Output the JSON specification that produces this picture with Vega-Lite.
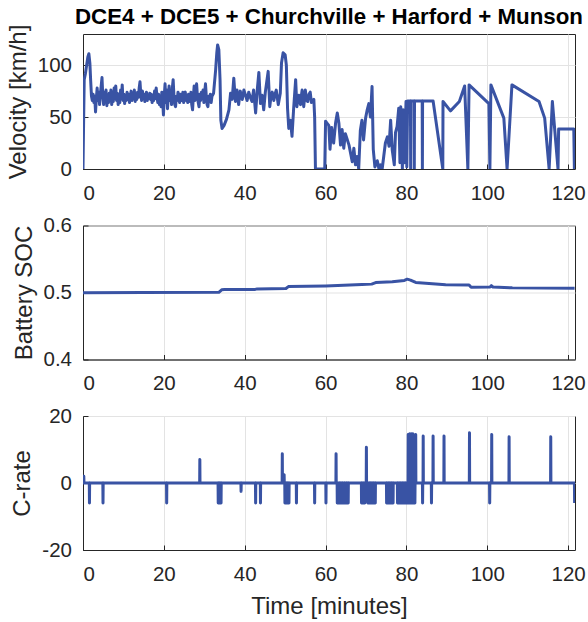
{
"$schema": "https://vega.github.io/schema/vega-lite/v6.json",
"padding": {"left": 5, "top": 5, "right": 5, "bottom": 5},
"background": "white",
"spacing": 56.5,
"bounds": "flush",
"datasets": {
"vel": [
{"t":0,"v":0},{"t":0.15,"v":45},{"t":0.3,"v":86},{"t":0.6,"v":92},{"t":0.9,"v":100},{"t":1.2,"v":108},{"t":1.45,"v":111},{"t":1.7,"v":102},{"t":1.9,"v":85},{"t":2.1,"v":70},{"t":2.3,"v":66},{"t":2.5,"v":72},{"t":2.7,"v":64},{"t":2.9,"v":70},{"t":3.1,"v":55},{"t":3.3,"v":68},{"t":3.5,"v":78},{"t":3.7,"v":66},{"t":3.9,"v":74},{"t":4.1,"v":62},{"t":4.3,"v":72},{"t":4.5,"v":80},{"t":4.7,"v":88},{"t":4.9,"v":70},{"t":5.1,"v":62},{"t":5.3,"v":74},{"t":5.5,"v":66},{"t":5.7,"v":76},{"t":5.9,"v":61},{"t":6.1,"v":70},{"t":6.3,"v":64},{"t":6.5,"v":73},{"t":6.7,"v":66},{"t":6.9,"v":76},{"t":7.1,"v":62},{"t":7.3,"v":70},{"t":7.5,"v":65},{"t":7.7,"v":78},{"t":7.9,"v":68},{"t":8.1,"v":80},{"t":8.3,"v":66},{"t":8.5,"v":73},{"t":8.7,"v":62},{"t":8.9,"v":71},{"t":9.1,"v":64},{"t":9.3,"v":76},{"t":9.5,"v":68},{"t":9.7,"v":81},{"t":9.9,"v":66},{"t":10.1,"v":72},{"t":10.3,"v":63},{"t":10.5,"v":71},{"t":10.7,"v":66},{"t":10.9,"v":74},{"t":11.1,"v":67},{"t":11.3,"v":72},{"t":11.5,"v":64},{"t":11.7,"v":70},{"t":11.9,"v":75},{"t":12.1,"v":66},{"t":12.3,"v":71},{"t":12.5,"v":68},{"t":12.7,"v":76},{"t":12.9,"v":65},{"t":13.1,"v":72},{"t":13.3,"v":67},{"t":13.5,"v":74},{"t":13.7,"v":69},{"t":13.9,"v":78},{"t":14.1,"v":84},{"t":14.3,"v":72},{"t":14.5,"v":66},{"t":14.7,"v":75},{"t":14.9,"v":68},{"t":15.1,"v":72},{"t":15.3,"v":65},{"t":15.5,"v":70},{"t":15.7,"v":74},{"t":15.9,"v":66},{"t":16.1,"v":71},{"t":16.3,"v":68},{"t":16.5,"v":73},{"t":16.7,"v":67},{"t":16.9,"v":72},{"t":17.1,"v":64},{"t":17.3,"v":70},{"t":17.5,"v":66},{"t":17.7,"v":75},{"t":17.9,"v":68},{"t":18.1,"v":78},{"t":18.3,"v":70},{"t":18.5,"v":64},{"t":18.7,"v":72},{"t":18.9,"v":62},{"t":19.1,"v":68},{"t":19.3,"v":60},{"t":19.5,"v":74},{"t":19.7,"v":66},{"t":19.9,"v":52},{"t":20.1,"v":70},{"t":20.3,"v":82},{"t":20.5,"v":64},{"t":20.7,"v":76},{"t":20.9,"v":58},{"t":21.1,"v":70},{"t":21.3,"v":80},{"t":21.5,"v":66},{"t":21.7,"v":74},{"t":21.9,"v":62},{"t":22.1,"v":78},{"t":22.3,"v":86},{"t":22.5,"v":70},{"t":22.7,"v":62},{"t":22.9,"v":60},{"t":23.1,"v":70},{"t":23.3,"v":66},{"t":23.5,"v":74},{"t":23.7,"v":70},{"t":23.9,"v":64},{"t":24.1,"v":72},{"t":24.3,"v":66},{"t":24.5,"v":68},{"t":24.7,"v":74},{"t":24.9,"v":64},{"t":25.1,"v":72},{"t":25.3,"v":74},{"t":25.5,"v":66},{"t":25.7,"v":70},{"t":25.9,"v":64},{"t":26.1,"v":72},{"t":26.3,"v":66},{"t":26.5,"v":65},{"t":26.7,"v":74},{"t":26.9,"v":62},{"t":27.1,"v":57},{"t":27.3,"v":70},{"t":27.5,"v":80},{"t":27.7,"v":66},{"t":27.9,"v":74},{"t":28.1,"v":82},{"t":28.3,"v":70},{"t":28.5,"v":64},{"t":28.7,"v":60},{"t":28.9,"v":72},{"t":29.1,"v":66},{"t":29.3,"v":74},{"t":29.5,"v":68},{"t":29.7,"v":76},{"t":29.9,"v":64},{"t":30.1,"v":74},{"t":30.3,"v":82},{"t":30.5,"v":70},{"t":30.7,"v":62},{"t":30.9,"v":60},{"t":31.1,"v":70},{"t":31.3,"v":66},{"t":31.5,"v":72},{"t":31.7,"v":64},{"t":31.9,"v":70},
{"t":32.3,"v":73},{"t":32.8,"v":95},{"t":33.1,"v":112},{"t":33.3,"v":119.5},{"t":33.6,"v":115},{"t":33.9,"v":86},{"t":34.1,"v":47},{"t":34.4,"v":39},{"t":34.9,"v":42},{"t":35.5,"v":48},{"t":36.1,"v":57},{"t":36.5,"v":73},{"t":36.9,"v":67},{"t":37.3,"v":87.5},{"t":37.7,"v":65},{"t":38.1,"v":76},{"t":38.5,"v":62},{"t":38.9,"v":75},{"t":39.4,"v":67},{"t":39.8,"v":76},{"t":40.2,"v":71},{"t":40.6,"v":66},{"t":41.0,"v":74},{"t":41.4,"v":69},{"t":41.8,"v":65},{"t":42.2,"v":76},{"t":42.7,"v":54},{"t":43.1,"v":76},{"t":43.5,"v":93},{"t":43.9,"v":63},{"t":44.3,"v":71},{"t":44.7,"v":57},{"t":45.1,"v":74},{"t":45.8,"v":94},{"t":46.2,"v":60},{"t":46.5,"v":70},{"t":46.8,"v":74},{"t":47.2,"v":66},{"t":47.5,"v":72},{"t":47.8,"v":76},{"t":48.3,"v":62},{"t":48.8,"v":73},{"t":49.1,"v":102},{"t":49.5,"v":112},{"t":50.0,"v":110},{"t":50.3,"v":100},{"t":50.6,"v":58},{"t":50.9,"v":39},{"t":51.3,"v":47},{"t":51.7,"v":31.5},{"t":52.1,"v":58},{"t":52.6,"v":86},{"t":52.9,"v":60},{"t":53.2,"v":68},{"t":53.4,"v":71},{"t":53.8,"v":62},{"t":54.0,"v":70},{"t":54.2,"v":76},{"t":54.6,"v":60},{"t":54.8,"v":68},{"t":55.0,"v":76},{"t":55.3,"v":66},{"t":55.6,"v":65},{"t":55.9,"v":72},{"t":56.2,"v":74},{"t":56.5,"v":64},{"t":56.8,"v":66},{"t":57.1,"v":67},{"t":57.3,"v":50},{"t":57.5,"v":0},{"t":59.8,"v":0},
{"t":60.0,"v":46},{"t":60.4,"v":44},{"t":60.8,"v":42},{"t":61.1,"v":19},{"t":61.5,"v":40},{"t":62.0,"v":25},{"t":62.5,"v":45},{"t":62.9,"v":54},{"t":63.3,"v":44},{"t":63.7,"v":23},{"t":64.1,"v":38},{"t":64.5,"v":20},{"t":64.9,"v":34},{"t":65.4,"v":28},{"t":65.8,"v":23},{"t":66.2,"v":15},{"t":66.6,"v":7},{"t":67.0,"v":20},{"t":67.4,"v":4},{"t":67.8,"v":12},{"t":68.2,"v":0},{"t":68.6,"v":37},{"t":69.0,"v":47},{"t":69.4,"v":28},{"t":69.9,"v":49},{"t":70.3,"v":57},{"t":70.7,"v":63},{"t":71.1,"v":50},{"t":71.5,"v":79.5},{"t":71.8,"v":19},{"t":72.2,"v":2},{"t":72.8,"v":8},{"t":73.2,"v":0},{"t":73.6,"v":4},{"t":74.0,"v":0},{"t":74.4,"v":12.5},{"t":74.8,"v":25},{"t":75.3,"v":31},{"t":75.7,"v":22},{"t":76.1,"v":47},{"t":76.5,"v":18},{"t":77.0,"v":4},{"t":77.3,"v":35},{"t":77.7,"v":41},{"t":78.1,"v":58.6},{"t":78.4,"v":6},{"t":78.6,"v":60},{"t":79.0,"v":0},{"t":79.2,"v":57},{"t":79.5,"v":6},{"t":79.9,"v":65},{"t":80.1,"v":2},{"t":80.3,"v":65.5},{"t":81.0,"v":65.5},{"t":81.05,"v":0},{"t":81.1,"v":65.5},{"t":81.9,"v":65.5},{"t":81.95,"v":0},{"t":82.0,"v":65.5},{"t":83.9,"v":65.5},{"t":83.95,"v":0},{"t":84.0,"v":65.5},{"t":86.6,"v":65.5},{"t":89.0,"v":0},{"t":89.05,"v":65},{"t":90.9,"v":56},{"t":93.1,"v":65},{"t":94.4,"v":80},{"t":95.2,"v":0},{"t":95.5,"v":81},{"t":100.4,"v":63},{"t":100.65,"v":0},{"t":100.9,"v":81},{"t":104.1,"v":49},{"t":104.9,"v":0},{"t":106.1,"v":81},{"t":112.8,"v":65},{"t":114.2,"v":49},{"t":115.3,"v":0},{"t":116.1,"v":65},{"t":117.5,"v":0},{"t":117.65,"v":38.5},{"t":121.4,"v":38.5},{"t":121.55,"v":0}
],
"soc": [
{"t":0,"s":0.4996},{"t":15,"s":0.4999},{"t":33.6,"s":0.5003},{"t":34.3,"s":0.504},{"t":35,"s":0.5044},{"t":42.6,"s":0.5046},{"t":43.1,"s":0.5054},{"t":50.2,"s":0.506},{"t":50.8,"s":0.5088},{"t":60,"s":0.5098},{"t":69,"s":0.5118},{"t":71.4,"s":0.5125},{"t":72.4,"s":0.5148},{"t":76.5,"s":0.516},{"t":79.5,"s":0.518},{"t":80.2,"s":0.5199},{"t":81,"s":0.5185},{"t":82.3,"s":0.515},{"t":85.6,"s":0.5135},{"t":89.7,"s":0.5115},{"t":95.5,"s":0.5113},{"t":96,"s":0.508},{"t":100.7,"s":0.5082},{"t":101,"s":0.5102},{"t":101.4,"s":0.5082},{"t":106.2,"s":0.507},{"t":121.6,"s":0.5063}
],
"crate": [
{"t":0,"c":2},{"t":0.2,"c":2},{"t":0.24,"c":0},
{"t":1.56,"c":0},{"t":1.6,"c":-6},{"t":1.64,"c":0},
{"t":4.91,"c":0},{"t":4.95,"c":-6},{"t":4.99,"c":0},
{"t":20.66,"c":0},{"t":20.7,"c":-6},{"t":20.74,"c":0},
{"t":28.86,"c":0},{"t":28.9,"c":7},{"t":28.94,"c":0},
{"t":33.41,"c":0},{"t":33.45,"c":-6},{"t":33.49,"c":0},
{"t":33.76,"c":0},{"t":33.8,"c":-6},{"t":33.84,"c":0},
{"t":34.11,"c":0},{"t":34.15,"c":-6},{"t":34.19,"c":0},
{"t":39.06,"c":0},{"t":39.1,"c":-2.5},{"t":39.14,"c":0},
{"t":42.66,"c":0},{"t":42.7,"c":-6},{"t":42.74,"c":0},
{"t":43.86,"c":0},{"t":43.9,"c":-6},{"t":43.94,"c":0},
{"t":49.26,"c":0},{"t":49.3,"c":8.7},{"t":49.34,"c":0},
{"t":49.71,"c":0},{"t":49.75,"c":2.5},{"t":49.79,"c":0},
{"t":49.91,"c":0},{"t":49.95,"c":-6},{"t":49.99,"c":0},
{"t":50.26,"c":0},{"t":50.3,"c":-6},{"t":50.34,"c":0},
{"t":50.56,"c":0},{"t":50.6,"c":-6},{"t":50.64,"c":0},
{"t":50.91,"c":0},{"t":50.95,"c":-6},{"t":50.99,"c":0},
{"t":52.76,"c":0},{"t":52.8,"c":-6},{"t":52.84,"c":0},
{"t":57.26,"c":0},{"t":57.3,"c":-6},{"t":57.34,"c":0},
{"t":60.06,"c":0},{"t":60.1,"c":-6},{"t":60.14,"c":0},
{"t":62.56,"c":0},{"t":62.6,"c":8.7},{"t":62.64,"c":0},
{"t":62.86,"c":0},{"t":62.9,"c":-6},{"t":62.94,"c":0},
{"t":63.36,"c":0},{"t":63.4,"c":-6},{"t":63.44,"c":0},
{"t":63.76,"c":0},{"t":63.8,"c":-6},{"t":63.84,"c":0},
{"t":64.16,"c":0},{"t":64.2,"c":-6},{"t":64.24,"c":0},
{"t":64.66,"c":0},{"t":64.7,"c":-6},{"t":64.74,"c":0},
{"t":65.16,"c":0},{"t":65.2,"c":-6},{"t":65.24,"c":0},
{"t":65.56,"c":0},{"t":65.6,"c":-6},{"t":65.64,"c":0},
{"t":68.86,"c":0},{"t":68.9,"c":-6},{"t":68.94,"c":0},
{"t":69.26,"c":0},{"t":69.3,"c":-6},{"t":69.34,"c":0},
{"t":69.66,"c":0},{"t":69.7,"c":-6},{"t":69.74,"c":0},
{"t":70.06,"c":0},{"t":70.1,"c":10.7},{"t":70.14,"c":0},
{"t":70.41,"c":0},{"t":70.45,"c":-6},{"t":70.49,"c":0},
{"t":70.76,"c":0},{"t":70.8,"c":-6},{"t":70.84,"c":0},
{"t":71.11,"c":0},{"t":71.15,"c":-6},{"t":71.19,"c":0},
{"t":71.46,"c":0},{"t":71.5,"c":-6},{"t":71.54,"c":0},
{"t":71.86,"c":0},{"t":71.9,"c":-6},{"t":71.94,"c":0},
{"t":72.26,"c":0},{"t":72.3,"c":-6},{"t":72.34,"c":0},
{"t":75.06,"c":0},{"t":75.1,"c":-6},{"t":75.14,"c":0},
{"t":75.46,"c":0},{"t":75.5,"c":-6},{"t":75.54,"c":0},
{"t":75.86,"c":0},{"t":75.9,"c":-6},{"t":75.94,"c":0},
{"t":76.26,"c":0},{"t":76.3,"c":-6},{"t":76.34,"c":0},
{"t":76.66,"c":0},{"t":76.7,"c":-6},{"t":76.74,"c":0},
{"t":77.76,"c":0},{"t":77.8,"c":-6},{"t":77.84,"c":0},
{"t":78.16,"c":0},{"t":78.2,"c":-6},{"t":78.24,"c":0},
{"t":78.56,"c":0},{"t":78.6,"c":-6},{"t":78.64,"c":0},
{"t":78.96,"c":0},{"t":79.0,"c":-6},{"t":79.04,"c":0},
{"t":79.36,"c":0},{"t":79.4,"c":-6},{"t":79.44,"c":0},
{"t":79.76,"c":0},{"t":79.8,"c":-6},{"t":79.84,"c":0},
{"t":80.16,"c":0},{"t":80.2,"c":-6},{"t":80.24,"c":0},
{"t":80.41,"c":0},{"t":80.45,"c":14.5},{"t":80.49,"c":0},
{"t":80.66,"c":0},{"t":80.7,"c":-6},{"t":80.74,"c":0},
{"t":80.81,"c":0},{"t":80.85,"c":14.7},{"t":80.89,"c":0},
{"t":81.06,"c":0},{"t":81.1,"c":-6},{"t":81.14,"c":0},
{"t":81.21,"c":0},{"t":81.25,"c":14.7},{"t":81.29,"c":0},
{"t":81.41,"c":0},{"t":81.45,"c":-6},{"t":81.49,"c":0},
{"t":81.56,"c":0},{"t":81.6,"c":14.7},{"t":81.64,"c":0},
{"t":81.81,"c":0},{"t":81.85,"c":-6},{"t":81.89,"c":0},
{"t":82.06,"c":0},{"t":82.1,"c":-6},{"t":82.14,"c":0},
{"t":82.26,"c":0},{"t":82.3,"c":14.5},{"t":82.34,"c":0},
{"t":83.96,"c":0},{"t":84.0,"c":-6},{"t":84.04,"c":0},
{"t":84.11,"c":0},{"t":84.15,"c":14},{"t":84.19,"c":0},
{"t":86.16,"c":0},{"t":86.2,"c":-6},{"t":86.24,"c":0},
{"t":86.56,"c":0},{"t":86.6,"c":14},{"t":86.64,"c":0},
{"t":89.26,"c":0},{"t":89.3,"c":14},{"t":89.34,"c":0},
{"t":95.56,"c":0},{"t":95.6,"c":15},{"t":95.64,"c":0},
{"t":100.56,"c":0},{"t":100.6,"c":-6},{"t":100.64,"c":0},
{"t":101.06,"c":0},{"t":101.1,"c":14.5},{"t":101.14,"c":0},
{"t":105.36,"c":0},{"t":105.4,"c":13.8},{"t":105.44,"c":0},
{"t":115.66,"c":0},{"t":115.7,"c":13.8},{"t":115.74,"c":0},
{"t":121.56,"c":0},{"t":121.6,"c":-6}
]
},
"vconcat": [
{
"title": {"text": "DCE4 + DCE5 + Churchville + Harford + Munson", "baseline": "alphabetic", "offset": -22, "frame": "group"},
"width": 492, "height": 135,
"data": {"name": "vel"},
"mark": {"type": "line", "color": "#3953a4", "strokeWidth": 3, "strokeJoin": "round", "clip": true},
"encoding": {
"x": {"field": "t", "type": "quantitative", "scale": {"domain": [0, 121.7], "nice": false, "zero": false}, "axis": {"values": [0,20,40,60,80,100,120], "title": null}},
"y": {"field": "v", "type": "quantitative", "scale": {"domain": [0, 130], "nice": false}, "axis": {"values": [0,50,100], "title": "Velocity [km/h]"}}
}
},
{
"width": 492, "height": 134,
"data": {"name": "soc"},
"mark": {"type": "line", "color": "#3953a4", "strokeWidth": 3, "strokeJoin": "round", "clip": true},
"encoding": {
"x": {"field": "t", "type": "quantitative", "scale": {"domain": [0, 121.7], "nice": false, "zero": false}, "axis": {"values": [0,20,40,60,80,100,120], "title": null}},
"y": {"field": "s", "type": "quantitative", "scale": {"domain": [0.4, 0.6], "nice": false, "zero": false}, "axis": {"values": [0.4,0.5,0.6], "format": ".1f", "title": "Battery SOC"}}
}
},
{
"width": 492, "height": 134,
"data": {"name": "crate"},
"mark": {"type": "line", "color": "#3953a4", "strokeWidth": 3, "strokeJoin": "round", "clip": true},
"encoding": {
"x": {"field": "t", "type": "quantitative", "scale": {"domain": [0, 121.7], "nice": false, "zero": false}, "axis": {"values": [0,20,40,60,80,100,120], "title": "Time [minutes]"}},
"y": {"field": "c", "type": "quantitative", "scale": {"domain": [-20, 20], "nice": false}, "axis": {"values": [-20,0,20], "labelExpr": "'' + datum.value", "title": "C-rate"}}
}
}
],
"config": {
"view": {"stroke": "#262626", "strokeWidth": 1},
"axis": {
"labelFont": "Liberation Sans", "labelFontSize": 20.5, "labelColor": "#262626",
"titleFont": "Liberation Sans", "titleFontSize": 24, "titleFontWeight": "normal", "titleColor": "#262626",
"domainColor": "#262626", "domainWidth": 1,
"gridColor": "#e3e3e3", "gridWidth": 1,
"ticks": true, "tickSize": -5, "tickColor": "#262626", "tickWidth": 1
},
"axisX": {"labelPadding": 19, "titlePadding": 10},
"axisY": {"labelPadding": 16.5, "titlePadding": 7},
"title": {"font": "Liberation Sans", "fontSize": 22.3, "fontWeight": "bold", "color": "#000000", "anchor": "middle"}
}
}
